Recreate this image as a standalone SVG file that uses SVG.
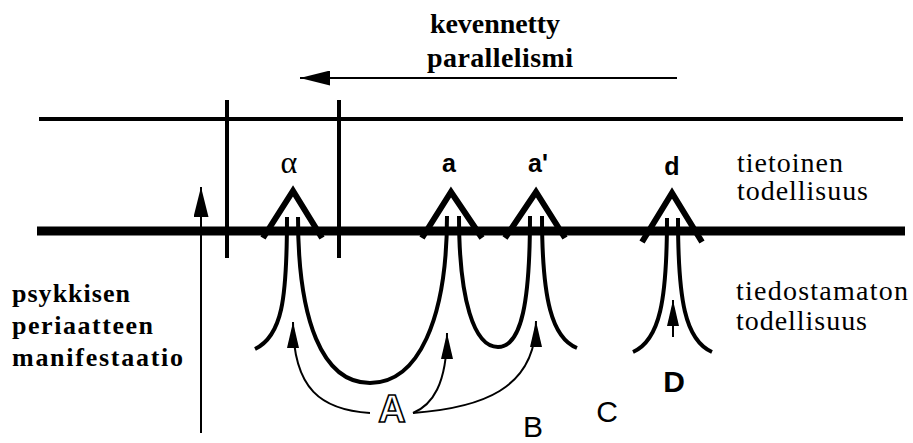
<svg xmlns="http://www.w3.org/2000/svg" width="913" height="443" viewBox="0 0 913 443">
<style>
.bg{fill:#fff}
.ln{stroke:#000;fill:none}
.caret{stroke:#000;fill:none;stroke-width:6;stroke-linejoin:miter}
.stem{stroke:#000;fill:none;stroke-width:4;stroke-linecap:butt}
.arr{stroke:#000;fill:none;stroke-width:2}
.serifB{font-family:"Liberation Serif",serif;font-weight:bold;font-size:26px;fill:#000}
.serifT{font-family:"Liberation Serif",serif;font-weight:bold;font-size:28px;fill:#000}
.serifR{font-family:"Liberation Serif",serif;font-size:28px;fill:#000}
.lab{font-family:"Liberation Sans",Arial,sans-serif;font-weight:bold;font-size:25px;fill:#000;text-anchor:middle}
.lett{font-family:"Liberation Sans",Arial,sans-serif;font-size:30px;fill:#000;text-anchor:middle}
</style>
<defs>
<marker id="ahL" markerWidth="30" markerHeight="15" refX="30" refY="7.5" orient="auto" markerUnits="userSpaceOnUse"><path d="M0,0 L30,7.5 L0,15 z" fill="#000"/></marker>
<marker id="ahS" markerWidth="26" markerHeight="12" refX="26" refY="6" orient="auto" markerUnits="userSpaceOnUse"><path d="M0,0 L26,6 L0,12 z" fill="#000"/></marker>
</defs>
<rect class="bg" x="0" y="0" width="913" height="443"/>

<g id="frame">
<line class="ln" x1="39" y1="119" x2="903" y2="119" stroke-width="4"/>
<line class="ln" x1="37" y1="231" x2="905" y2="231" stroke-width="9"/>
<line class="ln" x1="227" y1="100" x2="227" y2="258" stroke-width="4"/>
<line class="ln" x1="339" y1="100" x2="339" y2="258" stroke-width="4"/>
</g>

<g id="title">
<text class="serifT" x="430" y="33" textLength="130">kevennetty</text>
<text class="serifT" x="427" y="67" textLength="146">parallelismi</text>
</g>

<g id="left-label">
<text class="serifB" x="12" y="302" textLength="118">psykkisen</text>
<text class="serifB" x="12" y="334" textLength="141">periaatteen</text>
<text class="serifB" x="12" y="366" textLength="171">manifestaatio</text>
</g>

<g id="right-labels">
<text class="serifR" x="737" y="172" textLength="106">tietoinen</text>
<text class="serifR" x="737" y="200" textLength="131">todellisuus</text>
<text class="serifR" x="736" y="300" textLength="172">tiedostamaton</text>
<text class="serifR" x="736" y="330" textLength="131">todellisuus</text>
</g>

<g id="node-alpha">
<text x="289" y="173" font-family="Liberation Serif,serif" font-size="32" text-anchor="middle">α</text>
<path class="caret" d="M263,238 L293,191 L322,238"/>
<path class="stem" d="M287,217 C287,300 282,336 255,349"/>
</g>

<g id="node-a">
<text class="lab" x="449" y="172">a</text>
<path class="caret" d="M422,238 L451,192 L482,238"/>
</g>

<g id="node-a2">
<text class="lab" x="538" y="172">a'</text>
<path class="caret" d="M505,238 L536,192 L565,238"/>
<path class="stem" d="M542,216 C542,300 552,338 577,348"/>
</g>

<g id="node-d">
<text class="lab" x="672" y="175">d</text>
<path class="caret" d="M642,242 L672,193 L702,242"/>
<path class="stem" d="M667,218 C667,300 660,340 633,352"/>
<path class="stem" d="M678,218 C678,300 685,340 712,352"/>
</g>

<g id="roots">
<path class="stem" d="M298,217 C298,320 322,383 370,383 C418,383 447,320 447,216"/>
<path class="stem" d="M459,216 C459,300 474,347 498,347 C522,347 530,300 530,216"/>
</g>

<g id="labels-bottom">
<text x="392" y="422" font-family="Liberation Sans,Arial,sans-serif" font-weight="bold" font-size="38" text-anchor="middle" fill="#fff" stroke="#000" stroke-width="1.6">A</text>
<text class="lett" x="533" y="437">B</text>
<text class="lett" x="607" y="422">C</text>
<text x="674" y="392" font-family="Liberation Sans,Arial,sans-serif" font-weight="bold" font-size="30" text-anchor="middle">D</text>
</g>

<g id="connectors">
<line class="arr" x1="677" y1="78" x2="300" y2="78" marker-end="url(#ahL)"/>
<line class="arr" x1="201" y1="433" x2="201" y2="187" marker-end="url(#ahL)"/>
<line class="arr" x1="673" y1="337" x2="673" y2="300" marker-end="url(#ahS)"/>
<path class="arr" d="M370,413 C322,410 293,390 293,322" marker-end="url(#ahS)"/>
<path class="arr" d="M413,413 C432,405 447,385 447,333" marker-end="url(#ahS)"/>
<path class="arr" d="M413,413 C480,408 536,390 536,321" marker-end="url(#ahS)"/>
</g>
</svg>
